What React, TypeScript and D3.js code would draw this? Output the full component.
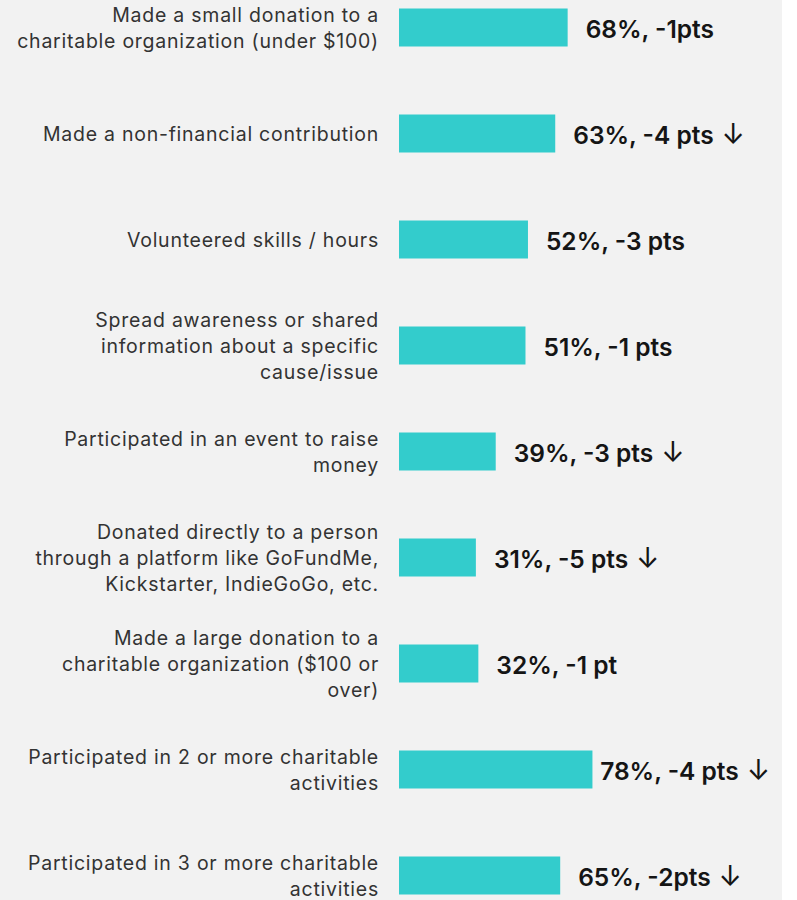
import React, { useEffect, useRef } from "react";
import * as d3 from "d3";

const categories: string[][] = [
  ["Made a small donation to a", "charitable organization (under $100)"],
  ["Made a non-financial contribution"],
  ["Volunteered skills / hours"],
  ["Spread awareness or shared", "information about a specific", "cause/issue"],
  ["Participated in an event to raise", "money"],
  ["Donated directly to a person", "through a platform like GoFundMe,", "Kickstarter, IndieGoGo, etc."],
  ["Made a large donation to a", "charitable organization ($100 or", "over)"],
  ["Participated in 2 or more charitable", "activities"],
  ["Participated in 3 or more charitable", "activities"],
];
const values: number[] = [68, 63, 52, 51, 39, 31, 32, 78, 65];
const changeLabels: string[] = ["-1pts", "-4 pts", "-3 pts", "-1 pts", "-3 pts", "-5 pts", "-1 pt", "-4 pts", "-2pts"];
const significantDrop: boolean[] = [false, true, false, false, true, true, false, true, true];

const W = 797;
const H = 900;

export default function App() {
  const ref = useRef<SVGSVGElement | null>(null);

  useEffect(() => {
    const svg = d3.select(ref.current);
    svg.selectAll("*").remove();

    svg.append("rect").attr("x", 0).attr("y", 0).attr("width", 782).attr("height", H).attr("fill", "#f2f2f2");

    const idx = values.map((_, i) => i);
    const y = d3.scaleBand<number>().domain(idx).range([-25.5, 928.5]).paddingInner(0.64).paddingOuter(0.32);
    const x = d3.scaleLinear().domain([0, 100]).range([399, 647]);
    const bw = 38;
    const cy = (i: number) => (y(i) as number) + y.bandwidth() / 2;

    const g = svg.append("g");

    g.selectAll("rect.bar")
      .data(idx)
      .join("rect")
      .attr("class", "bar")
      .attr("x", x(0))
      .attr("y", (i) => cy(i) - bw / 2)
      .attr("width", (i) => x(values[i]) - x(0))
      .attr("height", bw)
      .attr("fill", "#33cccc");

    const lh = 26;
    const cat = g.selectAll("text.cat")
      .data(idx)
      .join("text")
      .attr("class", "cat")
      .attr("text-anchor", "end")
      .attr("font-family", "Inter, 'Noto Sans', sans-serif")
      .attr("font-size", 19.5)
      .attr("font-weight", 400)
      .attr("letter-spacing", 0.75)
      .attr("fill", "#333333");
    cat.each(function (i) {
      const lines = categories[i];
      const t = d3.select(this);
      lines.forEach((ln, k) => {
        t.append("tspan")
          .attr("x", 379)
          .attr("y", cy(i) + 0.5 + (k - (lines.length - 1) / 2) * lh)
          .attr("dy", "0.35em")
          .text(ln);
      });
    });

    const rightLimit = 770;
    const vals = g.selectAll("text.val")
      .data(idx)
      .join("text")
      .attr("class", "val")
      .attr("font-family", "Inter, 'Noto Sans', sans-serif")
      .attr("font-size", 24.5)
      .attr("font-weight", 600)
      .attr("fill", "#151515")
      .attr("y", (i) => cy(i) + 1.5)
      .attr("dy", "0.36em");
    vals.each(function (i) {
      const t = d3.select(this);
      t.append("tspan").text(`${values[i]}%, ${changeLabels[i]}`);
      if (significantDrop[i]) {
        t.append("tspan").attr("font-weight", 400).attr("font-size", 28).text(" \u2193");
      }
      const w = (this as SVGTextElement).getComputedTextLength();
      const xx = Math.min(x(values[i]) + 18, rightLimit - w);
      t.attr("x", xx);
    });
  }, []);

  return (
    <div style={{ position: "absolute", left: 0, top: 0 }}>
      <svg ref={ref} width={W} height={H} style={{ display: "block", background: "#ffffff" }} />
    </div>
  );
}
